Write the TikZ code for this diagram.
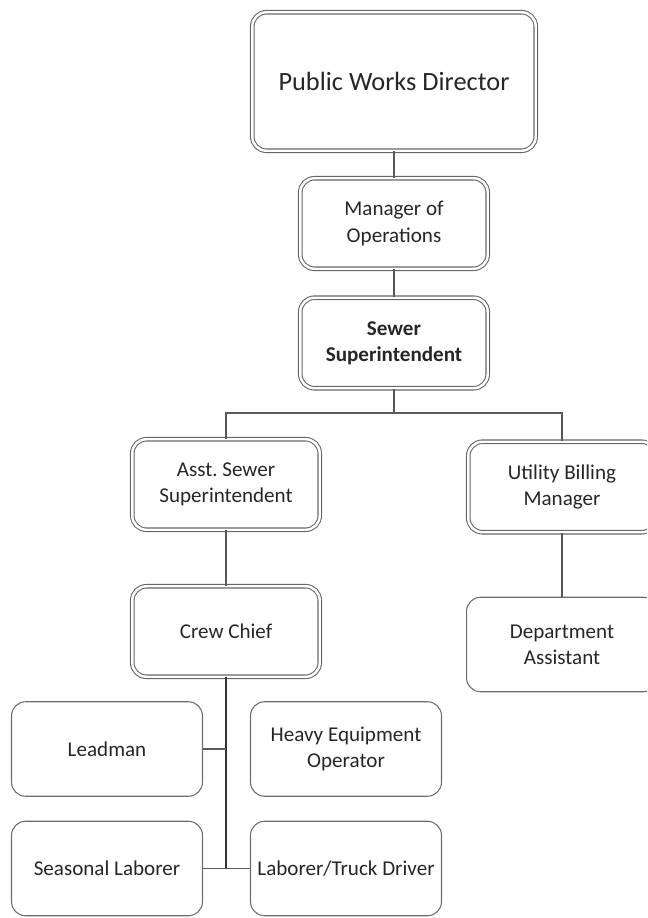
\documentclass[tikz,border=0pt]{standalone}
\usepackage{fontspec}
\setmainfont{Carlito}
\usepackage{tikz}

\tikzset{
    dbox/.style={draw=gray!80!black, line width=0.6pt, double=white, double distance=1.4pt,
                 rounded corners=8pt, align=center, text=black!85,
                 minimum width=3.75cm, minimum height=1.81cm, font=\fontsize{12}{15}\selectfont},
    sbox/.style={draw=gray!85!black, line width=0.6pt, rounded corners=8pt, align=center,
                 text=black!85, minimum width=3.82cm, minimum height=1.89cm,
                 font=\fontsize{12}{15}\selectfont},
    link/.style={draw=gray!70!black, line width=0.8pt},
    trunk/.style={draw=black!80, line width=1.1pt}
}

\begin{document}
\begin{tikzpicture}[x=0.02cm, y=-0.02cm]

    % Page frame (boxes on the right run off the edge)
    \clip (0,0) rectangle (647,918);

    % Top of the chain
    \node[dbox, minimum width=5.67cm, minimum height=2.77cm, font=\fontsize{15}{18}\selectfont]
        (pwd) at (394,81.5) {Public Works Director};
    \node[dbox] (mgr) at (394,223.5) {Manager of\\Operations};
    \node[dbox, font=\fontsize{12}{15}\selectfont\bfseries] (sup) at (394,343) {Sewer\\Superintendent};

    % Second level
    \node[dbox] (asst) at (226,484.5) {Asst.\ Sewer\\Superintendent};
    \node[dbox] (ubm) at (562,487) {Utility Billing\\Manager};

    \node[dbox] (crew) at (226,631.5) {Crew Chief};
    \node[sbox] (dept) at (562,644.5) {Department\\Assistant};

    % Crew
    \node[sbox] (lead) at (107,749) {Leadman};
    \node[sbox] (heavy) at (346,749) {Heavy Equipment\\Operator};
    \node[sbox] (seas) at (107,868.5) {Seasonal Laborer};
    \node[sbox] (truck) at (346,868.5) {Laborer/Truck Driver};

    % Connectors
    \coordinate (split) at (394,413);
    \draw[link] (pwd) -- (mgr);
    \draw[link] (mgr) -- (sup);
    \draw[link] (sup) -- (split);
    \draw[link] (asst.north) |- (split) -| (ubm.north);
    \draw[link] (asst) -- (crew);
    \draw[link] (ubm) -- (dept);

    \coordinate (bottom) at (crew.south |- seas.east);
    \draw[trunk] (crew.south) -- (bottom);
    \draw[link] (lead.east) -- (crew.south |- lead.east);
    \draw[link] (seas.east) -- (truck.west);

\end{tikzpicture}
\end{document}
